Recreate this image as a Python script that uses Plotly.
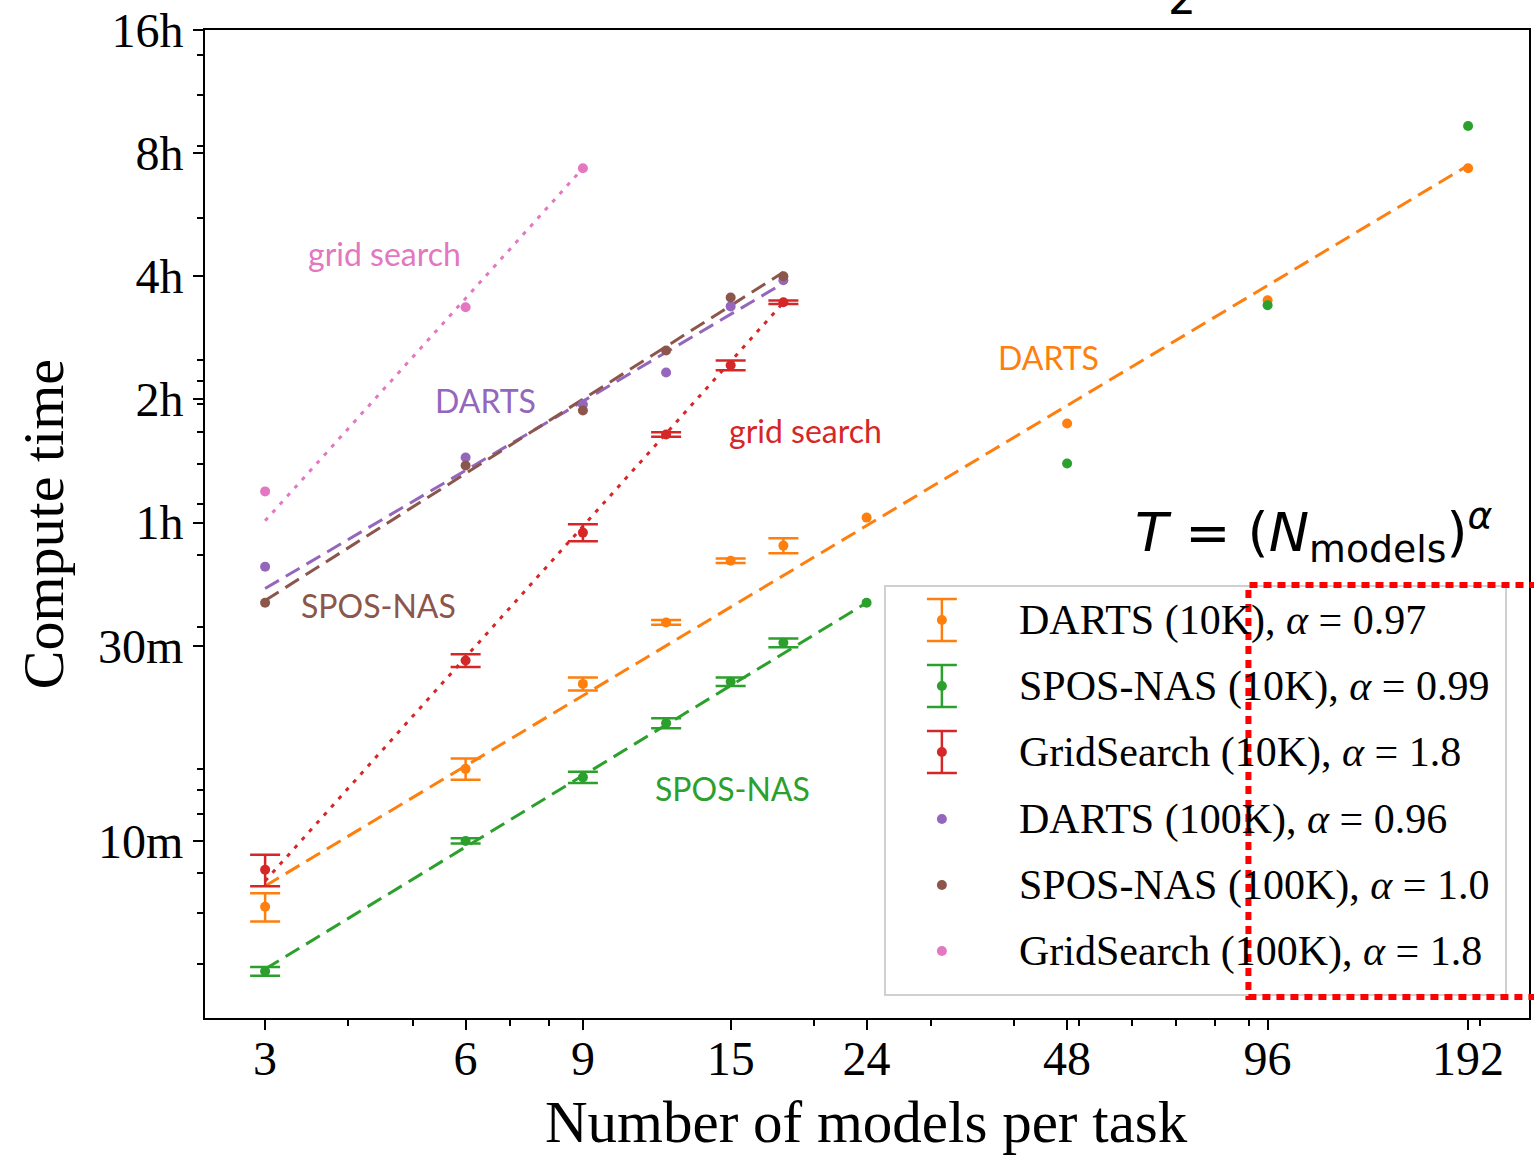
import plotly.graph_objects as go
import numpy as np

# ---------------- data (minutes) ----------------
N = [3, 6, 9, 12, 15, 18, 24, 48, 96, 192]
darts10k = [6.9, 15.0, 24.2, 34.2, 48.4, 52.7, 61.7, 104.8, 209.7, 441]
darts10k_err = [0.55, 0.9, 0.9, 0.45, 0.6, 2.2]
spos10k = [4.8, 10.0, 14.3, 19.4, 24.5, 30.5, 38.2, 83.7, 203.8, 559]
spos10k_err = [0.12, 0.15, 0.45, 0.55, 0.6, 0.75]
N_grid10k = [3, 6, 9, 12, 15, 18]
grid10k = [8.5, 27.6, 56.7, 98.5, 145.4, 207.3]
grid10k_err = [0.75, 1.0, 2.7, 1.2, 4.0, 2.0]
N_100k = [3, 6, 9, 12, 15, 18]
darts100k = [46.8, 86.5, 116.6, 139.7, 202.6, 234.6]
spos100k = [38.2, 82.7, 112.8, 158, 213, 240]
N_grid100k = [3, 6, 9]
grid100k = [71.5, 201.6, 441]

# fitted power-law lines (endpoints)
fit_darts10k_x, fit_darts10k_y = [3, 192], [7.76, 448]
fit_spos10k_x, fit_spos10k_y = [3, 24], [4.86, 38.2]
fit_grid10k_x, fit_grid10k_y = [3, 18], [7.98, 207]
fit_darts100k_x, fit_darts100k_y = [3, 18], [41.4, 230.8]
fit_spos100k_x, fit_spos100k_y = [3, 18], [38.7, 245.5]
fit_grid100k_x, fit_grid100k_y = [3, 9], [60.6, 441]

x_ticks = [3, 6, 9, 15, 24, 48, 96, 192]
x_minor = [4, 5, 7, 8, 20, 30, 40, 50, 60, 70, 80, 90, 200]
y_ticks = [10, 30, 60, 120, 240, 480, 960]
y_ticktext = ["10m", "30m", "1h", "2h", "4h", "8h", "16h"]
y_minor_seconds = [300, 400, 500, 700, 800, 900, 2000, 3000, 4000, 5000, 6000,
                   7000, 8000, 9000, 20000, 30000, 40000, 50000]

legend_labels = ["DARTS (10K), <i>α</i> = 0.97", "SPOS-NAS (10K), <i>α</i> = 0.99",
                 "GridSearch (10K), <i>α</i> = 1.8", "DARTS (100K), <i>α</i> = 0.96",
                 "SPOS-NAS (100K), <i>α</i> = 1.0", "GridSearch (100K), <i>α</i> = 1.8"]

C_OR, C_GR, C_RD = "#ff7f0e", "#2ca02c", "#d62728"
C_PU, C_BR, C_PK = "#9467bd", "#8c564b", "#e377c2"

W, H = 1534, 1155
L, R, T, B = 205, 1531, 30, 1018


def px(x):
    return (x - L) / (R - L)


def py(y):
    return (B - y) / (B - T)


fig = go.Figure()

DASH = "16px,8px"
DOT = "4px,7px"
for fx, fy, col, dash in [
    (fit_darts10k_x, fit_darts10k_y, C_OR, DASH),
    (fit_spos10k_x, fit_spos10k_y, C_GR, DASH),
    (fit_grid10k_x, fit_grid10k_y, C_RD, DOT),
    (fit_darts100k_x, fit_darts100k_y, C_PU, DASH),
    (fit_spos100k_x, fit_spos100k_y, C_BR, DASH),
    (fit_grid100k_x, fit_grid100k_y, C_PK, DOT),
]:
    fig.add_trace(go.Scatter(x=fx, y=fy, mode="lines",
                             line=dict(color=col, width=3, dash=dash),
                             showlegend=False, hoverinfo="skip"))

# points with error bars
for xs, ys, errs, col in [
    (N[:6], darts10k[:6], darts10k_err, C_OR),
    (N[:6], spos10k[:6], spos10k_err, C_GR),
    (N_grid10k, grid10k, grid10k_err, C_RD),
]:
    fig.add_trace(go.Scatter(x=xs, y=ys, mode="markers",
                             marker=dict(color=col, size=10),
                             error_y=dict(type="data", array=errs, visible=True,
                                          color=col, thickness=2.5, width=15),
                             showlegend=False))
for xs, ys, col in [
    (N[6:], darts10k[6:], C_OR),
    (N[6:], spos10k[6:], C_GR),
    (N_100k, darts100k, C_PU),
    (N_100k, spos100k, C_BR),
    (N_grid100k, grid100k, C_PK),
]:
    fig.add_trace(go.Scatter(x=xs, y=ys, mode="markers",
                             marker=dict(color=col, size=10),
                             showlegend=False))

shapes = []
annotations = []

# legend box
shapes.append(dict(type="rect", xref="paper", yref="paper",
                   x0=px(886), x1=px(1508), y0=py(995), y1=py(586),
                   line=dict(color="#d0d0d0", width=2),
                   fillcolor="rgba(255,255,255,0.8)", layer="above"))
leg_cols = [C_OR, C_GR, C_RD, C_PU, C_BR, C_PK]
leg_y = [620, 686, 752, 819, 885, 951]
ix = 943
for i, (lab, col, cy) in enumerate(zip(legend_labels, leg_cols, leg_y)):
    if i < 3:
        shapes.append(dict(type="line", xref="paper", yref="paper",
                           x0=px(ix), x1=px(ix), y0=py(cy - 21), y1=py(cy + 21),
                           line=dict(color=col, width=2.5), layer="above"))
        for dy in (-21, 21):
            shapes.append(dict(type="line", xref="paper", yref="paper",
                               x0=px(ix - 15), x1=px(ix + 15), y0=py(cy + dy), y1=py(cy + dy),
                               line=dict(color=col, width=2.5), layer="above"))
    shapes.append(dict(type="circle", xref="paper", yref="paper",
                       x0=px(ix - 5), x1=px(ix + 5), y0=py(cy + 5), y1=py(cy - 5),
                       line=dict(color=col, width=0), fillcolor=col, layer="above"))
    annotations.append(dict(xref="paper", yref="paper", x=px(1018), y=py(cy),
                            xanchor="left", yanchor="middle", text=lab, showarrow=False,
                            font=dict(family="Liberation Serif", size=42, color="black")))

# red dotted highlight
shapes.append(dict(type="rect", xref="paper", yref="paper",
                   x0=px(1250), x1=px(1560), y0=py(997), y1=py(585),
                   line=dict(color="#ff0000", width=6, dash="8px,6px"), layer="above"))

# colored labels
for txt, col, cx, cy in [
    ("grid search", C_PK, 385, 253),
    ("DARTS", C_PU, 486, 400),
    ("SPOS-NAS", C_BR, 379, 605),
    ("grid search", C_RD, 806, 430),
    ("DARTS", C_OR, 1050, 357),
    ("SPOS-NAS", C_GR, 733, 788),
]:
    annotations.append(dict(xref="paper", yref="paper", x=px(cx), y=py(cy),
                            xanchor="center", yanchor="middle", text=txt, showarrow=False,
                            font=dict(family="Lato", size=32, color=col)))

# formula
annotations.append(dict(xref="paper", yref="paper", x=px(1497), y=py(532),
                        xanchor="right", yanchor="middle",
                        text="<i>T</i> = (<i>N</i><sub>models</sub>)<sup><i>α</i></sup>",
                        showarrow=False,
                        font=dict(family="DejaVu Sans", size=54, color="black")))
# partial character at top
annotations.append(dict(xref="paper", yref="paper", x=px(1183), y=py(26),
                        xanchor="center", yanchor="bottom", text="2", showarrow=False,
                        font=dict(family="DejaVu Sans", size=44, color="black")))

# axis titles
annotations.append(dict(xref="paper", yref="paper", x=px(867), y=py(1122),
                        xanchor="center", yanchor="middle", text="Number of models per task",
                        showarrow=False,
                        font=dict(family="Liberation Serif", size=59, color="black")))
annotations.append(dict(xref="paper", yref="paper", x=px(43), y=py(524),
                        xanchor="center", yanchor="middle", text="Compute time",
                        textangle=-90, showarrow=False,
                        font=dict(family="Liberation Serif", size=58, color="black")))

tickfont = dict(family="Liberation Serif", size=48, color="black")
fig.update_layout(
    width=W, height=H,
    margin=dict(l=L, r=W - R, t=T, b=H - B),
    paper_bgcolor="white", plot_bgcolor="white",
    shapes=shapes, annotations=annotations,
    showlegend=False,
    xaxis=dict(type="log", range=[np.log10(2.437), np.log10(237)],
               tickmode="array", tickvals=x_ticks, ticktext=[str(v) for v in x_ticks],
               ticks="outside", ticklen=10, tickwidth=2, tickcolor="black",
               ticklabelstandoff=-13,
               showline=True, linecolor="black", linewidth=2, mirror=True,
               showgrid=False, zeroline=False, tickfont=tickfont,
               minor=dict(tickvals=x_minor, ticks="outside", ticklen=6,
                          tickwidth=1.5, tickcolor="black", showgrid=False)),
    yaxis=dict(type="log", range=[np.log10(3.69), np.log10(960)],
               tickmode="array", tickvals=y_ticks, ticktext=y_ticktext,
               ticks="outside", ticklen=10, tickwidth=2, tickcolor="black",
               showline=True, linecolor="black", linewidth=2, mirror=True,
               showgrid=False, zeroline=False, tickfont=tickfont,
               minor=dict(tickvals=[s / 60 for s in y_minor_seconds], ticks="outside",
                          ticklen=6, tickwidth=1.5, tickcolor="black", showgrid=False)),
)

fig.write_html("out.html", config={"displayModeBar": False},
               post_script="document.body.style.margin='0';document.body.style.overflow='hidden';")
